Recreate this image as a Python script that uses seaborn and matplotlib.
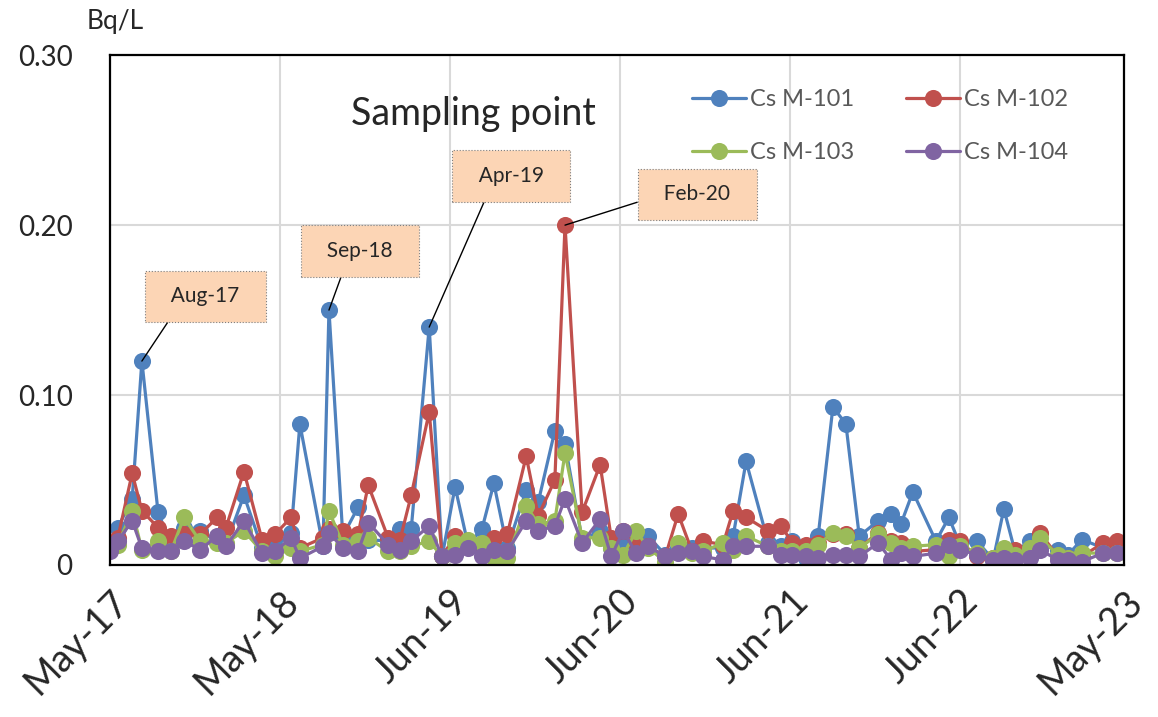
import numpy as np
import pandas as pd
import matplotlib
matplotlib.use("Agg")
import matplotlib.pyplot as plt
import matplotlib.dates as mdates
import seaborn as sns

# sampling dates (roughly monthly)
dates = ["2017-05-25", "2017-06-11", "2017-07-12", "2017-08-02", "2017-09-06", "2017-10-04",
         "2017-11-01", "2017-12-06", "2018-01-12", "2018-01-31", "2018-03-11", "2018-04-19",
         "2018-05-17", "2018-06-21", "2018-07-10", "2018-08-29", "2018-09-11", "2018-10-11",
         "2018-11-13", "2018-12-05", "2019-01-17", "2019-02-12", "2019-03-08", "2019-04-16",
         "2019-05-14", "2019-06-11", "2019-07-09", "2019-08-08", "2019-09-03", "2019-10-02",
         "2019-11-12", "2019-12-08", "2020-01-13", "2020-02-04", "2020-03-12", "2020-04-20",
         "2020-05-14", "2020-06-09", "2020-07-07", "2020-08-02", "2020-09-08", "2020-10-06",
         "2020-11-05", "2020-11-29", "2021-01-11", "2021-02-02", "2021-03-02", "2021-04-19",
         "2021-05-17", "2021-06-10", "2021-07-10", "2021-08-05", "2021-09-06", "2021-10-04",
         "2021-11-02", "2021-12-13", "2022-01-10", "2022-01-31", "2022-02-26", "2022-04-17",
         "2022-05-15", "2022-06-08", "2022-07-15", "2022-08-19", "2022-09-11", "2022-10-05",
         "2022-11-07", "2022-11-28", "2023-01-06", "2023-01-28", "2023-02-27", "2023-04-14",
         "2023-05-14"]

cs_m101 = [0.010, 0.022, 0.039, 0.120, 0.031, 0.012, 0.022, 0.020, 0.014, 0.012, 0.041, 0.010,
           0.010, 0.019, 0.083, 0.011, 0.150, 0.017, 0.034, 0.015, 0.014, 0.021, 0.021, 0.140,
           0.005, 0.046, 0.012, 0.021, 0.048, 0.010, 0.044, 0.037, 0.079, 0.071, 0.015, 0.020,
           0.010, 0.011, 0.012, 0.017, 0.006, 0.010, 0.010, 0.010, 0.010, 0.017, 0.061, 0.013,
           0.011, 0.014, 0.004, 0.017, 0.093, 0.083, 0.017, 0.026, 0.030, 0.024, 0.043, 0.014,
           0.028, 0.012, 0.014, 0.003, 0.033, 0.008, 0.014, 0.012, 0.009, 0.006, 0.015, 0.010,
           0.010]
cs_m102 = [0.013, 0.016, 0.054, 0.032, 0.022, 0.017, 0.018, 0.018, 0.028, 0.022, 0.055, 0.015,
           0.018, 0.028, 0.010, 0.016, 0.021, 0.020, 0.018, 0.047, 0.016, 0.015, 0.041, 0.090,
           0.005, 0.017, 0.012, 0.010, 0.016, 0.018, 0.064, 0.029, 0.050, 0.200, 0.031, 0.059,
           0.016, 0.020, 0.013, 0.011, 0.005, 0.030, 0.008, 0.014, 0.012, 0.032, 0.028, 0.020,
           0.023, 0.013, 0.012, 0.013, 0.018, 0.018, 0.010, 0.019, 0.014, 0.013, 0.008, 0.009,
           0.015, 0.014, 0.005, 0.004, 0.006, 0.009, 0.007, 0.019, 0.005, 0.004, 0.005, 0.013,
           0.014]
cs_m103 = [0.010, 0.012, 0.032, 0.009, 0.014, 0.008, 0.028, 0.014, 0.013, 0.013, 0.020, 0.008,
           0.005, 0.010, 0.008, 0.012, 0.032, 0.012, 0.014, 0.016, 0.008, 0.008, 0.011, 0.014,
           0.005, 0.013, 0.015, 0.013, 0.004, 0.004, 0.035, 0.024, 0.026, 0.066, 0.016, 0.016,
           0.010, 0.006, 0.020, 0.010, 0.002, 0.013, 0.007, 0.008, 0.013, 0.009, 0.017, 0.011,
           0.008, 0.008, 0.008, 0.012, 0.019, 0.017, 0.010, 0.018, 0.013, 0.010, 0.011, 0.012,
           0.005, 0.011, 0.007, 0.004, 0.010, 0.006, 0.010, 0.016, 0.006, 0.004, 0.007, 0.007,
           0.007]
cs_m104 = [0.008, 0.014, 0.026, 0.010, 0.008, 0.008, 0.014, 0.009, 0.017, 0.011, 0.026, 0.007,
           0.008, 0.016, 0.004, 0.011, 0.019, 0.010, 0.008, 0.025, 0.012, 0.009, 0.014, 0.023,
           0.005, 0.006, 0.010, 0.005, 0.009, 0.008, 0.026, 0.020, 0.023, 0.039, 0.013, 0.027,
           0.005, 0.020, 0.007, 0.011, 0.005, 0.007, 0.008, 0.005, 0.003, 0.011, 0.011, 0.011,
           0.006, 0.006, 0.005, 0.004, 0.006, 0.006, 0.005, 0.013, 0.003, 0.007, 0.005, 0.007,
           0.012, 0.009, 0.006, 0.003, 0.004, 0.003, 0.004, 0.009, 0.003, 0.003, 0.002, 0.007,
           0.007]

series_names = ["Cs M-101", "Cs M-102", "Cs M-103", "Cs M-104"]
series_colors = ["#4F81BD", "#C0504D", "#9BBB59", "#8064A2"]

x_tick_labels = ["May-17", "May-18", "Jun-19", "Jun-20", "Jun-21", "Jun-22", "May-23"]
y_ticks = [0, 0.10, 0.20, 0.30]
y_tick_labels = ["0", "0.10", "0.20", "0.30"]

callout_labels = ["Aug-17", "Sep-18", "Apr-19", "Feb-20"]
callout_dates = ["2017-08-02", "2018-09-11", "2019-04-16", "2020-02-04"]
callout_series = ["Cs M-101", "Cs M-101", "Cs M-101", "Cs M-102"]

# build long table for seaborn
df = pd.DataFrame({"date": pd.to_datetime(dates)})
for name, vals in zip(series_names, [cs_m101, cs_m102, cs_m103, cs_m104]):
    df[name] = vals
long = df.melt(id_vars="date", var_name="point", value_name="value")

sns.set_style("white")
plt.rcParams["font.family"] = ["Lato", "DejaVu Sans"]

fig = plt.figure(figsize=(11.58, 7.17), dpi=100)
ax = fig.add_axes([0.095, 0.212, 0.8756, 0.711])

sns.lineplot(data=long, x="date", y="value", hue="point", hue_order=series_names,
             palette=dict(zip(series_names, series_colors)), marker="o", markersize=12.3,
             markeredgewidth=0, linewidth=2.3, errorbar=None, ax=ax)

# axes range and ticks
x_start = pd.Timestamp("2017-05-25")
x_end = pd.Timestamp("2023-05-29")
tick_pos = [x_start + pd.Timedelta(days=368 * k) for k in range(6)] + [x_end]
ax.set_xlim(x_start, x_end)
ax.set_xticks(tick_pos)
ax.set_xticklabels(x_tick_labels, rotation=45, ha="right", rotation_mode="anchor", fontsize=27)
ax.set_ylim(0, 0.30)
ax.set_yticks(y_ticks)
ax.set_yticklabels(y_tick_labels, fontsize=20)
ax.tick_params(axis="y", length=0, pad=27)
ax.tick_params(axis="x", length=0, pad=13)
ax.set_xlabel("")
ax.set_ylabel("")

ax.grid(True, color="#D9D9D9", linewidth=1.5)
ax.set_axisbelow(True)
for s in ax.spines.values():
    s.set_color("black")
    s.set_linewidth(1.6)

fig.text(87 / 1158, 1 - 22 / 717, "Bq/L", fontsize=19, ha="left", va="center")
ax.text(0.358, 0.885, "Sampling point", transform=ax.transAxes, fontsize=27,
        ha="center", va="center")

# callout boxes
box_xy = [(0.094, 0.527), (0.2465, 0.616), (0.3955, 0.763), (0.579, 0.727)]
box_rel = [(0.2, 0), (0.35, 0), (0.27, 0), (0, 0.36)]
for lab, d, ser, xy, rp in zip(callout_labels, callout_dates, callout_series, box_xy, box_rel):
    row = long[(long["date"] == pd.Timestamp(d)) & (long["point"] == ser)].iloc[0]
    ax.annotate("  " + lab + "  ", xy=(row["date"], row["value"]), xytext=xy,
                textcoords="axes fraction", ha="center", va="center", fontsize=15,
                bbox=dict(boxstyle="square,pad=0.75", fc="#FCD5B5", ec="#7F7F7F",
                          lw=0.8, ls=":"),
                arrowprops=dict(arrowstyle="-", color="black", lw=1, relpos=rp,
                                shrinkA=0, shrinkB=0),
                zorder=5)

handles, labels = ax.get_legend_handles_labels()
order = [0, 2, 1, 3]
leg = ax.legend([handles[i] for i in order], [labels[i] for i in order], ncol=2,
                loc="upper left", bbox_to_anchor=(0.553, 0.975), frameon=False,
                fontsize=17, handlelength=2.3, handletextpad=0.15, labelspacing=1.35,
                columnspacing=2.2)
for t in leg.get_texts():
    t.set_color("#595959")

fig.savefig("out.png", dpi=100)
